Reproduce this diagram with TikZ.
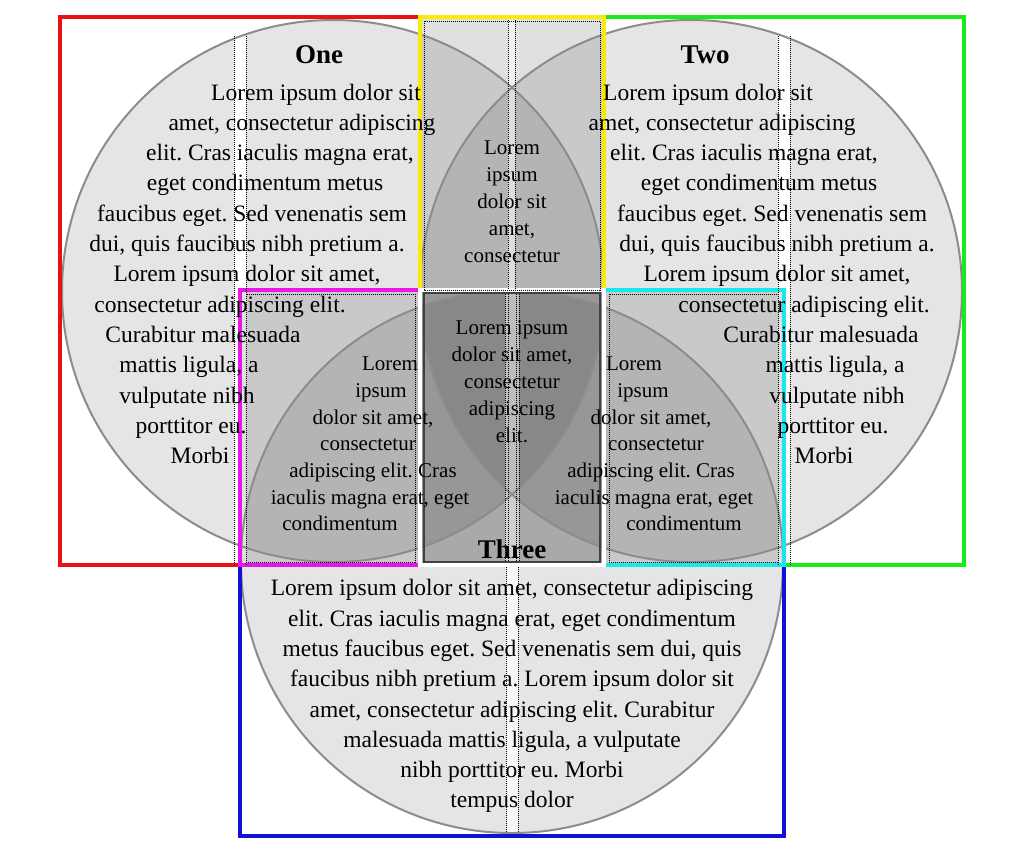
\documentclass[tikz,border=0pt]{standalone}
\usepackage{fontspec}
\setmainfont{Liberation Serif}
\usepackage{xcolor}
\frenchspacing
\definecolor{vred}{RGB}{232,18,18}
\definecolor{vyellow}{RGB}{250,236,0}
\definecolor{vgreen}{RGB}{24,236,24}
\definecolor{vblue}{RGB}{16,16,214}
\definecolor{vmagenta}{RGB}{232,22,232}
\definecolor{vcyan}{RGB}{24,232,236}
\tikzset{
  setfill/.style={fill=black, fill opacity=0.1},
  setedge/.style={draw=black!45, line width=2pt},
  boxfill/.style={fill=black, fill opacity=0.12},
  frame/.style={line width=4.5pt},
  guide/.style={draw=black, line width=0.9pt, dash pattern=on 1pt off 1pt},
  bodytext/.style={anchor=base, inner sep=0pt, font=\fontsize{23.5}{30}\selectfont},
  lenstext/.style={anchor=base, inner sep=0pt, font=\fontsize{21}{27}\selectfont},
  settitle/.style={anchor=base, inner sep=0pt, font=\fontsize{27}{32}\selectfont\bfseries},
}

\begin{document}
\begin{tikzpicture}[x=1pt, y=-1pt]
		\useasboundingbox (0,0) rectangle (1024,852);
		\fill[white] (0,0) rectangle (1024,852);
		% circle centres
		\coordinate (c-one) at (333,291);
		\coordinate (c-two) at (691,291);
		\coordinate (c-three) at (512,562);
		\foreach \c in {c-one,c-two,c-three}
			\fill[setfill] (\c) circle[radius=271pt];
		% strips
		\fill[white] (234,36) rectangle (246,565);
		\fill[white] (778,36) rectangle (790,565);
		% box fills
		\fill[boxfill] (420,17) rectangle (604,290);
		\fill[boxfill] (240,290) rectangle (420,565);
		\fill[boxfill] (604,290) rectangle (784,565);
		\fill[boxfill, fill opacity=0.26] (420,290) rectangle (604,565);
		\fill[white, fill opacity=0.55] (508,20) rectangle (515,290);
		\fill[white, fill opacity=0.45] (505,293) rectangle (519,562);
		\fill[white, fill opacity=0.7] (506,567) rectangle (518,833);
		\foreach \c in {c-one,c-two,c-three}
			\draw[setedge] (\c) circle[radius=271pt];
		% frames
		\draw[frame, vblue] (240,565) rectangle (784,836);
		\draw[frame, vred] (60,17) rectangle (420,565);
		\draw[frame, vgreen] (604,17) rectangle (964,565);
		\draw[frame, vyellow] (420,17) rectangle (604,290);
		\draw[frame, vmagenta] (240,290) rectangle (420,565);
		\draw[frame, vcyan] (604,290) rectangle (784,565);
		\draw[frame, white] (420,290) rectangle (604,565);
		\draw[black!75, line width=1.5pt] (424,293) rectangle (600,562);
		% texts
		\node[settitle] (one-title) at (319,63) {One};
		\node[settitle] (two-title) at (705,63) {Two};
		\node[settitle] (three-title) at (512,558) {Three};
		\foreach \x/\t [count=\i] in {316/{Lorem ipsum dolor sit}, 302/{amet, consectetur adipiscing},
			280/{elit. Cras iaculis magna erat,}, 265/{eget condimentum metus},
			252/{faucibus eget. Sed venenatis sem}, 247/{dui, quis faucibus nibh pretium a.},
			247/{Lorem ipsum dolor sit amet,}, 220/{consectetur adipiscing elit.},
			203/{Curabitur malesuada}, 189/{mattis ligula, a}, 187/{vulputate nibh},
			191/{porttitor eu.}, 200/{Morbi}} {
			\node[bodytext] (one-\i) at (\x,{69.7+30.3*\i}) {\t};
			\node[bodytext] (two-\i) at ({1024-\x},{69.7+30.3*\i}) {\t};
		}
		\foreach \t [count=\i] in {Lorem, ipsum, dolor sit, {amet,}, consectetur}
			\node[lenstext] (top-\i) at (512,{127.5+27*\i}) {\t};
		\foreach \t [count=\i] in {Lorem ipsum, {dolor sit amet,}, consectetur, adipiscing, elit.}
			\node[lenstext] (mid-\i) at (512,{307.5+27*\i}) {\t};
		\foreach \x/\t [count=\i] in {390/Lorem, 381/ipsum, 373/{dolor sit amet,}, 368/consectetur,
			373/{adipiscing elit. Cras}, 370/{iaculis magna erat, eget}, 340/condimentum} {
			\node[lenstext] (left-\i) at (\x,{344+26.7*\i}) {\t};
			\node[lenstext] (right-\i) at ({1024-\x},{344+26.7*\i}) {\t};
		}
		\foreach \t [count=\i] in {{Lorem ipsum dolor sit amet, consectetur adipiscing},
			{elit. Cras iaculis magna erat, eget condimentum},
			{metus faucibus eget. Sed venenatis sem dui, quis},
			{faucibus nibh pretium a. Lorem ipsum dolor sit},
			{amet, consectetur adipiscing elit. Curabitur},
			{malesuada mattis ligula, a vulputate}, {nibh porttitor eu. Morbi}, {tempus dolor}}
			\node[bodytext] (three-\i) at (512,{565.5+30.3*\i}) {\t};
		% dotted guides
		\draw[guide] (424,21) rectangle (600,290);
		\draw[guide] (246,294) rectangle (415,562);
		\draw[guide] (609,294) rectangle (778,562);
		\foreach \x in {234,246,778,790}
			\draw[guide] (\x,36) -- (\x,565);
		\foreach \x in {508,515}
			\draw[guide] (\x,20) -- (\x,290);
		\foreach \x in {505,508,516,519}
			\draw[guide] (\x,294) -- (\x,562);
		\foreach \x in {506,518}
			\draw[guide] (\x,567) -- (\x,833);
	\end{tikzpicture}
\end{document}
